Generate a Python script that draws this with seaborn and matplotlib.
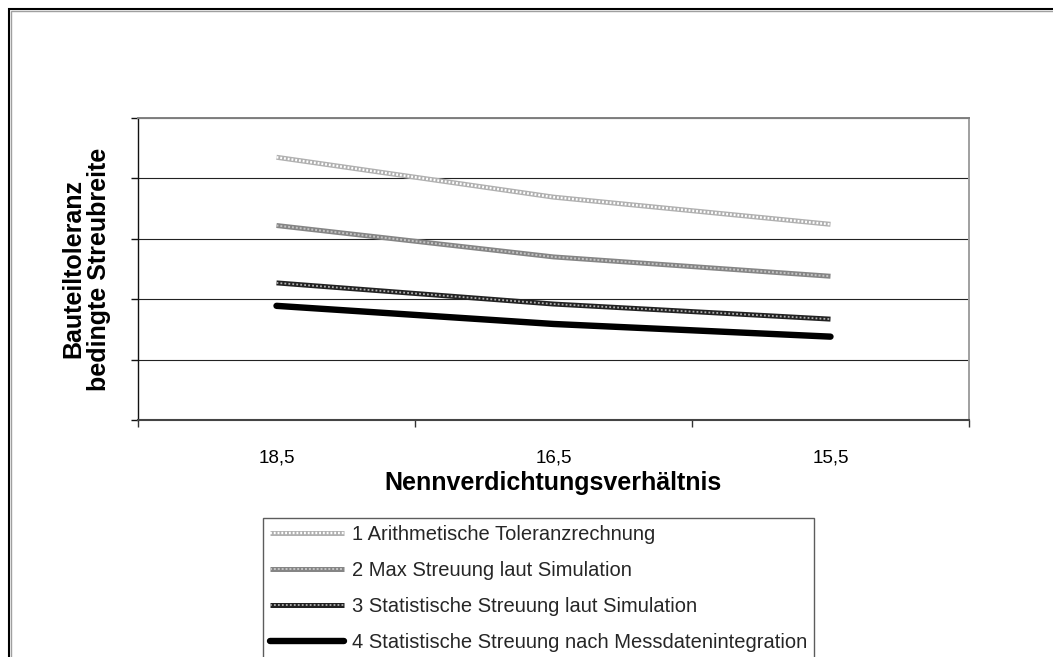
import numpy as np
import pandas as pd
import matplotlib
matplotlib.use("Agg")
import matplotlib.pyplot as plt
import seaborn as sns
from matplotlib.lines import Line2D
from matplotlib.patches import Rectangle
from matplotlib.legend_handler import HandlerTuple

# ---------------- data ----------------
categories = ["18,5", "16,5", "15,5"]
series_names = [
    "1 Arithmetische Toleranzrechnung",
    "2 Max Streuung laut Simulation",
    "3 Statistische Streuung laut Simulation",
    "4 Statistische Streuung nach Messdatenintegration",
]
arith = [4.35, 3.69, 3.24]
max_sim = [3.22, 2.70, 2.38]
stat_sim = [2.27, 1.92, 1.67]
stat_mess = [1.89, 1.59, 1.38]
y_ticks = [0, 1, 2, 3, 4, 5]
x_label = "Nennverdichtungsverhältnis"
y_label = "Bauteiltoleranz\nbedingte Streubreite"

# ---------------- style ----------------
sns.set_theme(style="white")
plt.rcParams['font.family'] = ['Liberation Sans', 'DejaVu Sans']

W, H = 1053, 657
fig = plt.figure(figsize=(W / 100, H / 100), dpi=100, facecolor="white")
ax = fig.add_axes([138 / W, 1 - 420 / H, (969 - 138) / W, (420 - 118) / H])

x = np.arange(len(categories))
df = pd.DataFrame({
    "pos": np.tile(x, 4),
    "value": arith + max_sim + stat_sim + stat_mess,
    "series": np.repeat(series_names, len(categories)),
})

# base colour, base width, overlay colour, overlay width, overlay dashes
styles = [
    ("#b0b0b0", 3.6, "#ffffff", 1.7, (0.8, 0.8)),
    ("#858585", 3.6, "#c4c4c4", 1.4, (1.0, 1.0)),
    ("#222222", 3.6, "#b0b0b0", 1.3, (1.0, 1.2)),
    ("#000000", 4.6, None, None, None),
]

handles = []
for name, (bc, bw, oc, ow, od) in zip(series_names, styles):
    sub = df[df["series"] == name]
    cap = "round" if oc is None else "butt"
    sns.lineplot(data=sub, x="pos", y="value", color=bc, linewidth=bw,
                 ax=ax, legend=False, solid_capstyle=cap, zorder=3)
    h_base = Line2D([], [], color=bc, lw=bw, solid_capstyle=cap)
    if oc is not None:
        ax.plot(sub["pos"], sub["value"], color=oc, lw=ow, dashes=od,
                dash_capstyle="butt", zorder=4)
        h_over = Line2D([], [], color=oc, lw=ow, dashes=od)
        handles.append((h_base, h_over))
    else:
        handles.append((h_base,))

# ---------------- axes ----------------
ax.set_xlim(-0.5, 2.5)
ax.set_ylim(0, 5)
ax.set_yticks(y_ticks)
ax.set_yticklabels([])
ax.yaxis.grid(True, color="#222222", lw=0.8)
ax.xaxis.grid(False)

ax.set_xticks([-0.5, 0.5, 1.5, 2.5])
ax.set_xticklabels([])
ax.set_xticks(x, labels=categories, minor=True)
ax.tick_params(axis="x", which="minor", bottom=True, labelbottom=True,
               length=0, pad=21, labelsize=13.5, labelcolor="black")
ax.tick_params(axis="x", which="major", bottom=True, length=5, width=1,
               color="#333333", direction="out")
ax.tick_params(axis="y", which="major", left=True, length=5, width=1,
               color="#111111", direction="out")

for side, col, lw in [("left", "#111111", 1.0), ("bottom", "#444444", 1.5),
                      ("top", "#808080", 1.4), ("right", "#a0a0a0", 1.4)]:
    ax.spines[side].set_visible(True)
    ax.spines[side].set_color(col)
    ax.spines[side].set_linewidth(lw)

ax.set_xlabel(x_label, fontsize=18, fontweight="bold", color="black")
ax.xaxis.set_label_coords(0.5, -(471 - 420) / (420 - 118))
ax.set_ylabel(y_label, fontsize=18, fontweight="bold", color="black",
              linespacing=1.1)
ax.yaxis.set_label_coords(-(138 - 111) / (969 - 138), 0.5)

# ---------------- legend ----------------
leg = fig.legend(handles, series_names, loc="upper left",
                 bbox_to_anchor=(263 / W, 1 - 518 / H),
                 bbox_transform=fig.transFigure,
                 frameon=True, fancybox=False, shadow=False,
                 borderaxespad=0, borderpad=0.35, labelspacing=0.85,
                 handlelength=3.67, handletextpad=0.4, fontsize=14.5,
                 handler_map={tuple: HandlerTuple(ndivide=1, pad=0)})
leg.get_frame().set_edgecolor("#333333")
leg.get_frame().set_linewidth(1.0)
leg.get_frame().set_facecolor("white")

# ---------------- outer frame ----------------
fig.add_artist(Rectangle((10.5 / W, -0.2), 1.3, 1 - 10.5 / H + 0.2,
                         transform=fig.transFigure, fill=False,
                         edgecolor="#a0a0a0", lw=1.0))
fig.add_artist(Rectangle((9 / W, -0.2), 1.3, 1 - 9 / H + 0.2,
                         transform=fig.transFigure, fill=False,
                         edgecolor="black", lw=1.5))

fig.savefig("out.png", dpi=100, facecolor="white")
